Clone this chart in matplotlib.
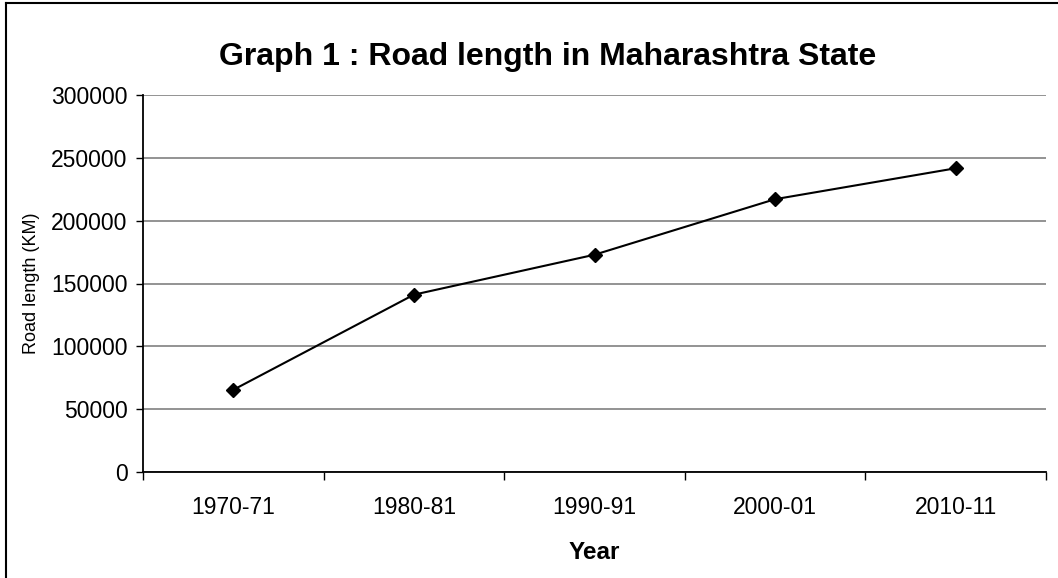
import numpy as np
import matplotlib.pyplot as plt
from matplotlib.lines import Line2D

plt.rcParams['font.family'] = ['Liberation Sans', 'DejaVu Sans']

years = ['1970-71', '1980-81', '1990-91', '2000-01', '2010-11']
road_km = [65400, 141100, 172900, 217100, 241700]
yticks = [0, 50000, 100000, 150000, 200000, 250000, 300000]

fig = plt.figure(figsize=(10.58, 5.78), dpi=100)
ax = fig.add_axes([143/1058, 1-472/578, (1046-143)/1058, (472-95)/578])

x = np.arange(len(years))
ax.plot(x, road_km, color='black', lw=1.5, marker='D', ms=7, zorder=3)

ax.set_xlim(-0.5, len(years)-0.5)
ax.set_ylim(0, 300000)
ax.set_yticks(yticks)
ax.set_yticklabels([str(v) for v in yticks], fontsize=16.5)
ax.set_xticks(x)
ax.set_xticklabels(years, fontsize=16.5)
ax.set_xticks(np.arange(len(years)+1)-0.5, minor=True)
ax.tick_params(axis='x', which='major', length=0, pad=17)
ax.tick_params(axis='x', which='minor', length=6, width=1, direction='out')
ax.tick_params(axis='y', length=5, width=1, direction='out', pad=6)

ax.yaxis.grid(True, color='#808080', lw=1.2)
ax.set_axisbelow(True)
for s in ['top', 'right']:
    ax.spines[s].set_visible(False)
for s in ['left', 'bottom']:
    ax.spines[s].set_linewidth(1.3)

ax.set_xlabel('Year', fontsize=17.5, fontweight='bold', labelpad=16)
ax.set_ylabel('Road length (KM)', fontsize=13, labelpad=8)
fig.text(548/1058, 1-57/578, 'Graph 1 : Road length in Maharashtra State',
         ha='center', va='center', fontsize=23, fontweight='bold')

# chart frame (left and top edges visible)
fig.add_artist(Line2D([6/1058, 6/1058], [0, 1-3/578], color='black', lw=1.5))
fig.add_artist(Line2D([6/1058, 1], [1-3/578, 1-3/578], color='black', lw=1.5))

fig.savefig('out.png', dpi=100)
